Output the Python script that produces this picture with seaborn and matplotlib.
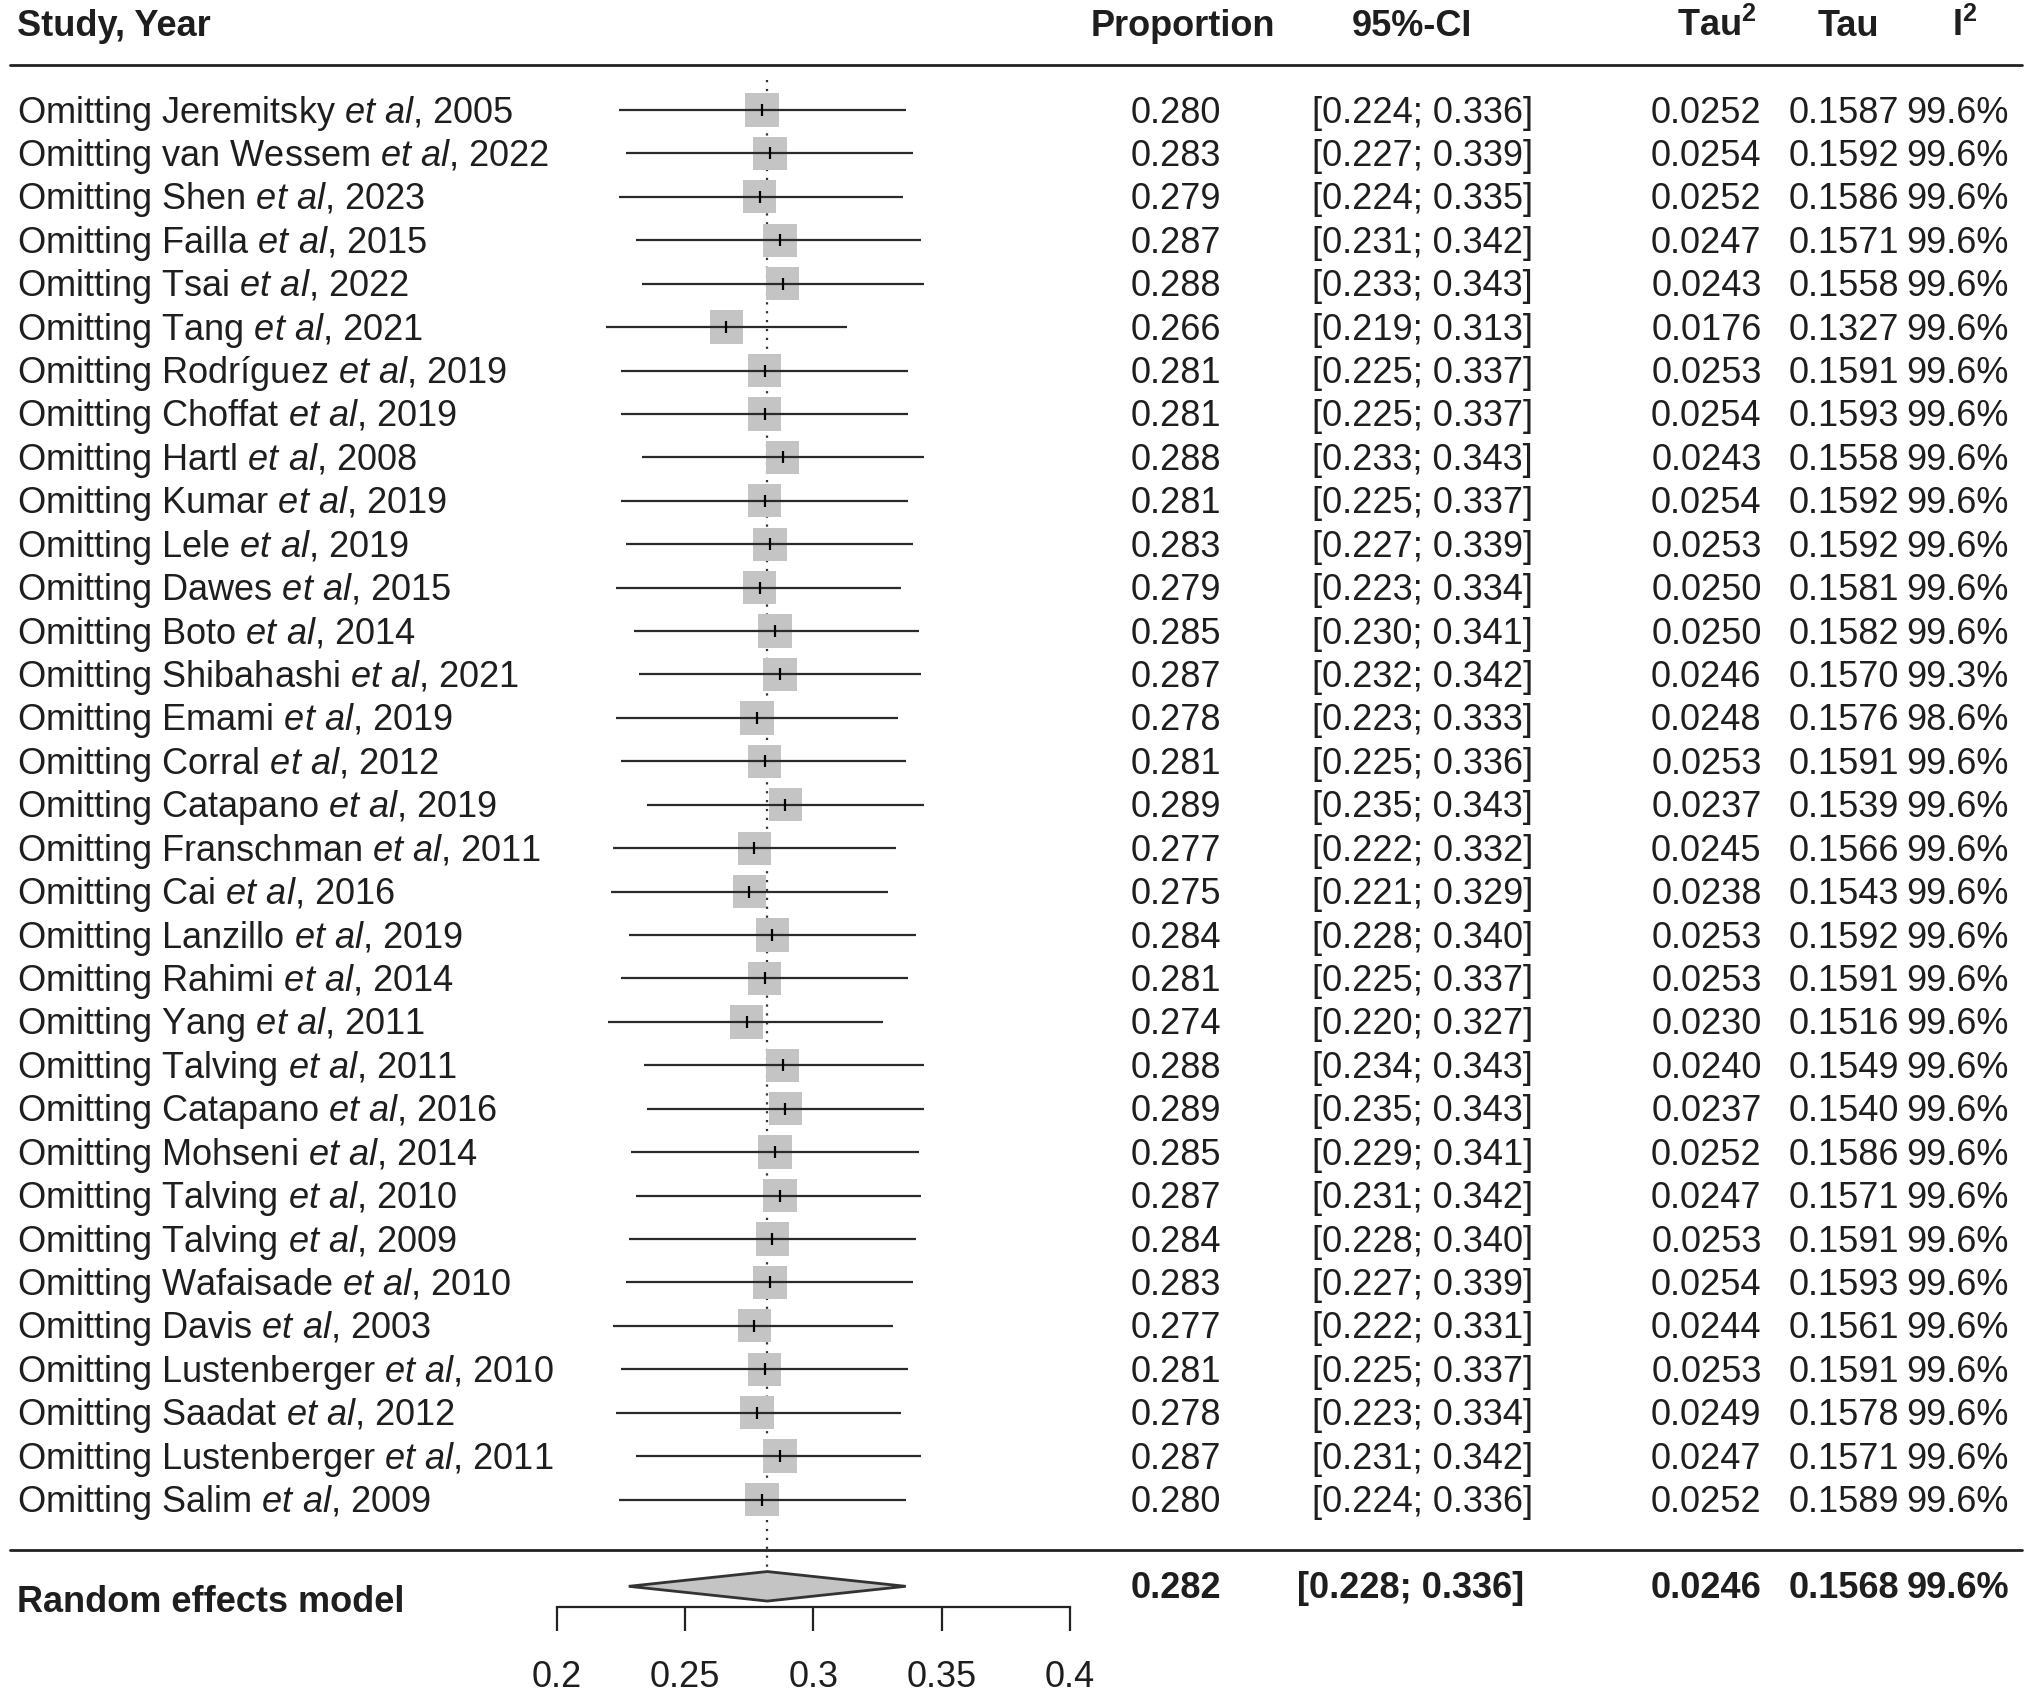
import numpy as np
import pandas as pd
import matplotlib
matplotlib.use("Agg")
import matplotlib.pyplot as plt
import matplotlib.transforms as mtransforms
import seaborn as sns

# datos de la figura (leave-one-out)
autores = ["Jeremitsky", "van Wessem", "Shen", "Failla", "Tsai", "Tang", "Rodríguez",
           "Choffat", "Hartl", "Kumar", "Lele", "Dawes", "Boto", "Shibahashi", "Emami",
           "Corral", "Catapano", "Franschman", "Cai", "Lanzillo", "Rahimi", "Yang",
           "Talving", "Catapano", "Mohseni", "Talving", "Talving", "Wafaisade", "Davis",
           "Lustenberger", "Saadat", "Lustenberger", "Salim"]
anios = [2005, 2022, 2023, 2015, 2022, 2021, 2019, 2019, 2008, 2019, 2019, 2015, 2014,
         2021, 2019, 2012, 2019, 2011, 2016, 2019, 2014, 2011, 2011, 2016, 2014, 2010,
         2009, 2010, 2003, 2010, 2012, 2011, 2009]
proporcion = [0.280, 0.283, 0.279, 0.287, 0.288, 0.266, 0.281, 0.281, 0.288, 0.281, 0.283,
              0.279, 0.285, 0.287, 0.278, 0.281, 0.289, 0.277, 0.275, 0.284, 0.281, 0.274,
              0.288, 0.289, 0.285, 0.287, 0.284, 0.283, 0.277, 0.281, 0.278, 0.287, 0.280]
inferior = [0.224, 0.227, 0.224, 0.231, 0.233, 0.219, 0.225, 0.225, 0.233, 0.225, 0.227,
            0.223, 0.230, 0.232, 0.223, 0.225, 0.235, 0.222, 0.221, 0.228, 0.225, 0.220,
            0.234, 0.235, 0.229, 0.231, 0.228, 0.227, 0.222, 0.225, 0.223, 0.231, 0.224]
superior = [0.336, 0.339, 0.335, 0.342, 0.343, 0.313, 0.337, 0.337, 0.343, 0.337, 0.339,
            0.334, 0.341, 0.342, 0.333, 0.336, 0.343, 0.332, 0.329, 0.340, 0.337, 0.327,
            0.343, 0.343, 0.341, 0.342, 0.340, 0.339, 0.331, 0.337, 0.334, 0.342, 0.336]
tau2 = [0.0252, 0.0254, 0.0252, 0.0247, 0.0243, 0.0176, 0.0253, 0.0254, 0.0243, 0.0254,
        0.0253, 0.0250, 0.0250, 0.0246, 0.0248, 0.0253, 0.0237, 0.0245, 0.0238, 0.0253,
        0.0253, 0.0230, 0.0240, 0.0237, 0.0252, 0.0247, 0.0253, 0.0254, 0.0244, 0.0253,
        0.0249, 0.0247, 0.0252]
tau = [0.1587, 0.1592, 0.1586, 0.1571, 0.1558, 0.1327, 0.1591, 0.1593, 0.1558, 0.1592,
       0.1592, 0.1581, 0.1582, 0.1570, 0.1576, 0.1591, 0.1539, 0.1566, 0.1543, 0.1592,
       0.1591, 0.1516, 0.1549, 0.1540, 0.1586, 0.1571, 0.1591, 0.1593, 0.1561, 0.1591,
       0.1578, 0.1571, 0.1589]
i2 = [99.6, 99.6, 99.6, 99.6, 99.6, 99.6, 99.6, 99.6, 99.6, 99.6, 99.6, 99.6, 99.6, 99.3,
      98.6, 99.6, 99.6, 99.6, 99.6, 99.6, 99.6, 99.6, 99.6, 99.6, 99.6, 99.6, 99.6, 99.6,
      99.6, 99.6, 99.6, 99.6, 99.6]

# modelo de efectos aleatorios
re_prop = 0.282
re_inf = 0.228
re_sup = 0.336
re_tau2 = 0.0246
re_tau = 0.1568
re_i2 = 99.6

ticks_x = [0.2, 0.25, 0.3, 0.35, 0.4]
ticks_lab = ["0.2", "0.25", "0.3", "0.35", "0.4"]

df = pd.DataFrame({"autor": autores, "anio": anios, "prop": proporcion,
                   "inf": inferior, "sup": superior, "tau2": tau2, "tau": tau, "i2": i2})
df["fila"] = np.arange(1, len(df) + 1)

sns.set_theme(style="white")
plt.rcParams["font.family"] = ["Liberation Sans", "DejaVu Sans"]
plt.rcParams["mathtext.fontset"] = "custom"
plt.rcParams["mathtext.rm"] = "Liberation Sans"
plt.rcParams["mathtext.it"] = "Liberation Sans:italic"
plt.rcParams["mathtext.bf"] = "Liberation Sans:bold"

W, H = 1568.0, 1310.0  # coordenadas de referencia
fs = 26
col = "#1e1e1e"

fig = plt.figure(figsize=(20.31, 16.95), dpi=100)
ax = fig.add_axes([430 / W, 1 - 1242 / H, (826 - 430) / W, 1242 / H])

fila0, paso = 85.0, 33.56
def fila_de(ypx):
    return 1 + (ypx - fila0) / paso

ax.set_xlim(0.2, 0.4)
ax.set_ylim(fila_de(1242), fila_de(0))

# lineas de IC
ax.hlines(df["fila"], df["inf"], df["sup"], color="#2a2a2a", lw=1.6, zorder=3)
# cuadrados
sns.scatterplot(data=df, x="prop", y="fila", marker="s", s=24 ** 2, color="#c4c4c4",
                edgecolor="none", linewidth=0, ax=ax, zorder=2, legend=False)
# estimacion puntual
ax.scatter(df["prop"], df["fila"], marker="|", s=80, color="black", linewidths=1.6, zorder=4)

# linea punteada del efecto global
fila_re = fila_de(1226)
alto_diam = 0.34
ax.vlines(re_prop, fila_de(62), fila_re - alto_diam, color="#333333", lw=1.6,
          linestyles=(0, (1, 3)), zorder=1)

# diamante
ax.fill([re_inf, re_prop, re_sup, re_prop],
        [fila_re, fila_re - alto_diam, fila_re, fila_re + alto_diam],
        facecolor="#c4c4c4", edgecolor="#333333", lw=2, zorder=3)

# eje x
for s in ["top", "left", "right"]:
    ax.spines[s].set_visible(False)
ax.spines["bottom"].set_bounds(0.2, 0.4)
ax.spines["bottom"].set_linewidth(1.6)
ax.spines["bottom"].set_color("#222222")
ax.set_xticks(ticks_x)
ax.set_xticklabels(ticks_lab)
ax.tick_params(axis="x", direction="out", length=17, width=1.6, color="#222222",
               pad=21, labelsize=fs, labelcolor=col, bottom=True)
ax.set_yticks([])
ax.set_xlabel("")
ax.set_ylabel("")
ax.patch.set_alpha(0)

tr = mtransforms.blended_transform_factory(fig.transFigure, ax.transData)
dy = 0.07  # pequeño ajuste vertical del texto

def texto(xpx, y, s, ha="left", bold=False):
    ax.text(xpx / W, y + dy, s, transform=tr, ha=ha, va="center", fontsize=fs,
            fontweight="bold" if bold else "normal", color=col)

# encabezados
y_h = fila_de(18)
texto(13, y_h, "Study, Year", bold=True)
texto(913, y_h, "Proportion", ha="center", bold=True)
texto(1090, y_h, "95%-CI", ha="center", bold=True)
texto(1295, y_h, r"Tau$^\mathbf{2}$", bold=True)
texto(1427, y_h, "Tau", ha="center", bold=True)
texto(1507, y_h, r"I$^\mathbf{2}$", bold=True)

# lineas horizontales
for ypx in [50, 1198]:
    ax.plot([8 / W, 1561 / W], [fila_de(ypx)] * 2, transform=tr, color="#222222",
            lw=2, clip_on=False)

# filas
for _, r in df.iterrows():
    y = r["fila"]
    texto(13, y, "Omitting " + r["autor"] + r" $\mathit{et\ al}$, " + str(r["anio"]))
    texto(943, y, f"{r['prop']:.3f}", ha="right")
    texto(1013, y, f"[{r['inf']:.3f}; {r['sup']:.3f}]")
    texto(1360, y, f"{r['tau2']:.4f}", ha="right")
    texto(1466, y, f"{r['tau']:.4f}", ha="right")
    texto(1551, y, f"{r['i2']:.1f}%", ha="right")

# fila del modelo
y_lab = fila_de(1236)
y_num = fila_de(1225)
texto(13, y_lab, "Random effects model", bold=True)
texto(943, y_num, f"{re_prop:.3f}", ha="right", bold=True)
texto(1001, y_num, f"[{re_inf:.3f}; {re_sup:.3f}]", bold=True)
texto(1360, y_num, f"{re_tau2:.4f}", ha="right", bold=True)
texto(1466, y_num, f"{re_tau:.4f}", ha="right", bold=True)
texto(1551, y_num, f"{re_i2:.1f}%", ha="right", bold=True)

fig.savefig("out.png", dpi=100, facecolor="white")
